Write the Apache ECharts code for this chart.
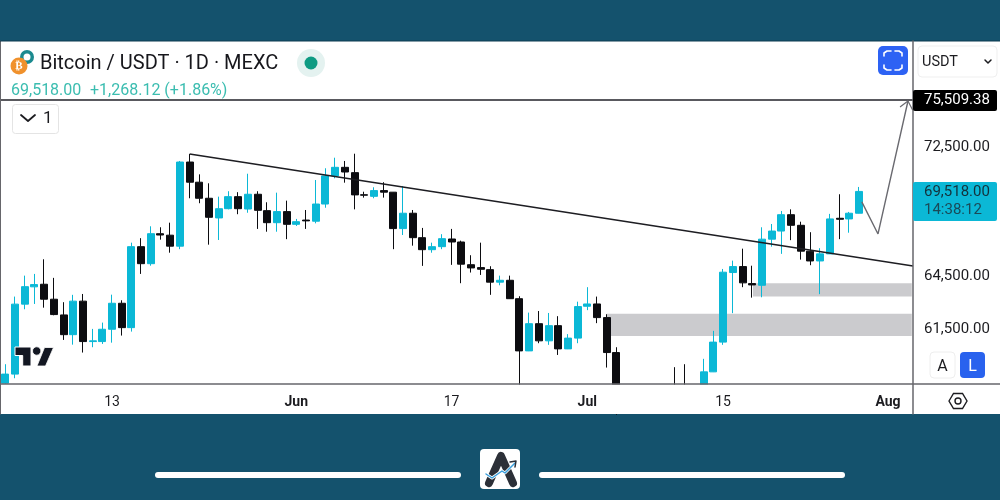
<!DOCTYPE html>
<html>
<head>
<meta charset="utf-8">
<style>html,body{margin:0;padding:0;background:#14526d}#chart{width:1000px;height:500px}</style>
<script src="https://cdn.jsdelivr.net/npm/echarts@6/dist/echarts.min.js"></script>
</head>
<body>
<div id="chart"></div>
<script>
// [open, close, low, high]
var candles = [
  [58450,58930,58410,59460],[58930,62780,58710,63210],[62780,63780,62490,64420],[63770,63900,62790,64520],
  [63920,63060,62580,65380],[63060,62190,62150,64290],[62170,61070,60780,62890],[61070,62950,60520,63310],
  [62950,60690,60090,63360],[60690,60730,60380,61390],[60690,61370,60560,61740],[61370,62830,60630,63320],
  [62830,61460,61020,63000],[61460,66130,61240,66370],[66130,65120,64520,66640],[65120,66910,65000,67360],
  [66910,66830,66550,67300],[66820,66160,65770,67580],[66160,71390,65980,71460],[71390,70100,69090,71910],
  [70100,69090,68780,70600],[69090,67910,66250,70030],[67870,68440,66530,69190],[68440,69190,68400,69530],
  [69190,68440,68100,69470],[68420,69340,68190,70640],[69340,68340,67200,69530],[68320,67580,67030,68840],
  [67580,68260,67030,69440],[68260,67480,66580,68940],[67480,67640,67380,67810],[67740,67690,67200,68360],
  [67670,68730,67540,70240],[68730,70500,68500,70990],[70500,71050,70350,71670],[71050,70750,70070,71460],
  [70710,69300,68400,71930],[69310,69280,69130,69500],[69210,69570,69090,69780],[69570,69470,69130,70100],
  [69470,67220,65980,69480],[67220,68160,66830,69860],[68160,66670,66190,68360],[66670,65950,64990,67260],
  [65950,66130,65770,66370],[66130,66610,65980,66880],[66590,66410,65050,67200],[66410,65090,63980,66490],
  [65060,64870,64600,65620],[64890,64790,64460,66370],[64770,64040,63310,64970],[64040,64150,63860,64420],
  [64150,63090,63080,64420],[63090,60180,57000,63230],[60180,61680,60170,62300],[61680,60730,60600,62390],
  [60730,61570,60510,62280],[61570,60290,59960,62100],[60290,60880,60280,61100],[60880,62640,60600,62920],
  [62660,62790,62440,63750],[62790,62020,61710,63210],[62020,60090,59280,62210],[60090,57500,56800,60380],
  [57500,56700,56200,58000],[56700,56900,55800,57900],[56900,57200,56100,58000],[57200,57100,56600,58200],
  [57100,57300,56800,58300],[57700,57400,57000,59300],[57900,57500,57000,59460],[57500,57900,57200,58300],
  [57990,59050,57800,59750],[59050,60660,59040,61280],[60660,64620,60510,64810],[64600,64950,62270,65300],
  [64950,64000,63750,66010],[63960,63880,63150,65000],[63860,66580,63170,67300],[66580,67070,66130,67500],
  [67070,68070,65700,68300],[68070,67420,66520,68400],[67420,65860,65360,67640],[65860,65280,65030,67000],
  [65280,65700,63350,66040],[65700,67810,65690,68120],[67850,67790,66580,69340],[67810,68160,66970,68240],
  [68160,69518,68150,69800]
];
var slotCount = 95;
var dateTicks = {11:'13', 30:'Jun', 46:'17', 60:'Jul', 74:'15', 91:'Aug'};
var monthTicks = ['Jun','Jul','Aug'];
var priceTicks = [61500, 64500, 72500];
var trendLine = [[19,71910],[93.58,64986]];
var targetLine = [[-0.5,75509.38],[93.58,75509.38]];
var projection = [[88.3,68860],[89.97,66894],[93.06,75443]];
var arrowHead = [[92.24,75034],[93.06,75443],[93.54,74830]];
var zoneUpper = [[77.08,63980],[93.45,63210]];
var zoneLower = [[62,62230],[93.45,60990]];

var categories = [];
for (var i = 0; i < slotCount; i++) categories.push(String(i));

var TEAL = '#0bb8d6', BLACK = '#0c0c10', RULE = '#66666b', INK = '#1c1c20';
var FONT = 'Roboto';

function box(x, y, w, h, r, fill, stroke, z) {
  return {type:'rect', shape:{x:x,y:y,width:w,height:h,r:r}, style:{fill:fill,stroke:stroke||null,lineWidth:1}, z:z===undefined?10:z, silent:true};
}
function label(x, y, str, size, fill, extra) {
  var s = {x:x,y:y,text:str,fontSize:size,fontFamily:FONT,fill:fill,textVerticalAlign:'middle',verticalAlign:'middle'};
  for (var k in (extra||{})) s[k] = extra[k];
  return {type:'text', style:s, z:11, silent:true};
}
function stroke(points, color, width, z, fill) {
  return {type: fill ? 'polygon' : 'polyline', shape:{points:points},
    style:{stroke:fill?null:color,fill:fill?color:null,lineWidth:width,lineCap:'round',lineJoin:'round'}, z:z||11, silent:true};
}
function pale(cx, cy, r, color, z) {
  return {type:'circle', shape:{cx:cx,cy:cy,r:r}, style:{fill:color}, z:z||10, silent:true};
}

var chrome = [
  // panels and rules
  box(0,41,1000,373,0,'#ffffff',null,-10),
  box(0,384.5,913,29.5,0,'#ffffff',null,5),
  stroke([[0.5,41],[0.5,414]],RULE,1,9),
  stroke([[0,41],[1000,41]],'#0d3b50',1,9),
  stroke([[0,384],[1000,384]],RULE,1.5,9),
  stroke([[913,41],[913,414]],RULE,1.5,9),
  // header
  pale(19,66,8.5,'#f0912c'),
  pale(27,57,7,'#1b8a8f',9),
  pale(27,57,3.5,'#ffffff',10),
  label(19,66.5,'₿',11,'#ffffff',{align:'center',textAlign:'center',fontWeight:'bold'}),
  label(40,64,'Bitcoin / USDT · 1D · MEXC',20,'#17171c'),
  pale(311,63,14,'#e4f2f0'),
  pale(311,63,6.5,'#0f9b83'),
  label(11,90.5,'69,518.00',16,'#3bbdb0'),
  label(90,90.5,'+1,268.12 (+1.86%)',16,'#3bbdb0'),
  box(12.5,104.5,46,29,3,'#ffffff','#e4e4e4'),
  stroke([[21,115],[28,121],[35,115]],'#1c1c20',1.8),
  label(43,119,'1',17,INK),
  // fullscreen button
  box(878,46,30,29,5,'#2d62f4'),
  stroke([[884,56],[884,53],[887,51],[891,51]],'#ffffff',1.6),
  stroke([[895,51],[899,51],[902,53],[902,56]],'#ffffff',1.6),
  stroke([[884,65],[884,68],[887,70],[891,70]],'#ffffff',1.6),
  stroke([[895,70],[899,70],[902,68],[902,65]],'#ffffff',1.6),
  // currency select
  box(918,46,79,31,4,'#ffffff','#efefef'),
  label(922,62.5,'USDT',14.5,INK),
  stroke([[985,60],[988,63],[991,60]],'#1c1c20',1.5),
  // price tags
  box(913,90,84,21,2,'#000000'),
  label(924,100,'75,509.38',15,'#ffffff'),
  box(913,182,84,39,2,TEAL),
  label(924,192,'69,518.00',15,'#14323c'),
  label(924,210,'14:38:12',15,'#1a4a58'),
  // A / L and settings
  box(930,352,25,26,4,'#ffffff','#eeeeee'),
  label(942.5,367,'A',16,INK,{align:'center',textAlign:'center'}),
  box(960,352,25,26,4,'#2962ee'),
  label(972.5,367,'L',16,'#ffffff',{align:'center',textAlign:'center'}),
  {type:'polygon', shape:{points:[[949,401],[953.5,393.5],[962.5,393.5],[967,401],[962.5,408.5],[953.5,408.5]]},
    style:{fill:null,stroke:'#1c1c20',lineWidth:1.4}, z:11, silent:true},
  {type:'circle', shape:{cx:958,cy:401,r:3}, style:{fill:null,stroke:'#1c1c20',lineWidth:1.4}, z:11, silent:true},
  // TradingView mark
  {type:'polygon', shape:{points:[[15,347],[31,347],[31,366],[22.7,366],[22.7,355.5],[15,355.5]]},
    style:{fill:'#131722',stroke:'#ffffff',lineWidth:1}, z:11, silent:true},
  {type:'circle', shape:{cx:36.7,cy:351,r:4.2}, style:{fill:'#131722',stroke:'#ffffff',lineWidth:0.8}, z:11, silent:true},
  {type:'polygon', shape:{points:[[44.5,347.5],[53.5,347.5],[45.5,366],[37,366]]},
    style:{fill:'#131722',stroke:'#ffffff',lineWidth:0.8}, z:11, silent:true},
  // footer
  box(155,472,306,6,3,'#ffffff'),
  box(539,472,306,6,3,'#ffffff'),
  box(480,449,40,40,4,'#ffffff'),
  stroke([[489,483],[501,456],[513,483]],'#2c3038',8),
  stroke([[486,474],[492,478],[502,471],[505,473],[515,463]],'#ffffff',3),
  stroke([[486,474],[492,478],[502,471],[505,473],[515,463]],'#3a9fdc',1.5,12),
  stroke([[510,462],[516,461],[515,467]],'#2c3038',1.5,12)
];

var chart = echarts.init(document.getElementById('chart'), null, {renderer:'canvas'});
chart.setOption({
  animation: false,
  backgroundColor: '#14526d',
  grid: {left:0.45, top:41, width:921.5, height:343, containLabel:false},
  xAxis: [
    {
      type:'category', data:categories, boundaryGap:true, z:6,
      axisLine:{show:false}, axisTick:{show:false}, splitLine:{show:false},
      axisLabel:{
        show:true, margin:11, hideOverlap:false, fontFamily:FONT, fontSize:14, color:INK,
        interval:function (idx) { return dateTicks[idx] !== undefined; },
        formatter:function (v, idx) {
          var t = dateTicks[idx];
          return monthTicks.indexOf(t) >= 0 ? '{b|' + t + '}' : t;
        },
        rich:{b:{fontWeight:'bold',fontFamily:FONT,fontSize:14,color:INK}}
      }
    },
    {type:'value', min:-0.5, max:94.5, show:false, splitLine:{show:false}}
  ],
  yAxis: {
    type:'log', min:58405, max:79650, position:'right', offset:-8.95,
    axisLine:{show:false}, axisTick:{show:false}, splitLine:{show:false}, minorTick:{show:false},
    axisLabel:{
      customValues:priceTicks, margin:11, fontFamily:FONT, fontSize:15, color:INK,
      formatter:function (v) { return '{p|' + Math.round(v).toLocaleString('en-US') + '.00}'; },
      rich:{p:{fontFamily:FONT,fontSize:15,color:INK,padding:[4,0,0,0]}}
    }
  },
  graphic: {elements: chrome},
  series: [
    {
      type:'line', xAxisIndex:1, data:[], z:1, silent:true, showSymbol:false,
      markArea:{silent:true, itemStyle:{color:'#cbcbce'}, data:[
        [{coord:zoneUpper[0]},{coord:zoneUpper[1]}],
        [{coord:zoneLower[0]},{coord:zoneLower[1]}]
      ]}
    },
    {
      type:'candlestick', data:candles, barWidth:7.5, z:3, silent:true,
      itemStyle:{color:TEAL, color0:BLACK, borderColor:TEAL, borderColor0:BLACK, borderWidth:1}
    },
    {type:'line', xAxisIndex:1, data:trendLine, z:4, silent:true, symbol:'none', lineStyle:{color:'#1d1d22',width:1.5}},
    {type:'line', xAxisIndex:1, data:targetLine, z:4, silent:true, symbol:'none', lineStyle:{color:'#222228',width:1.4}},
    {type:'line', xAxisIndex:1, data:projection, z:4, silent:true, symbol:'none', lineStyle:{color:'#6a6a70',width:1.4}},
    {type:'line', xAxisIndex:1, data:arrowHead, z:4, silent:true, symbol:'none', lineStyle:{color:'#6a6a70',width:1.2}}
  ]
});
</script>
</body>
</html>
